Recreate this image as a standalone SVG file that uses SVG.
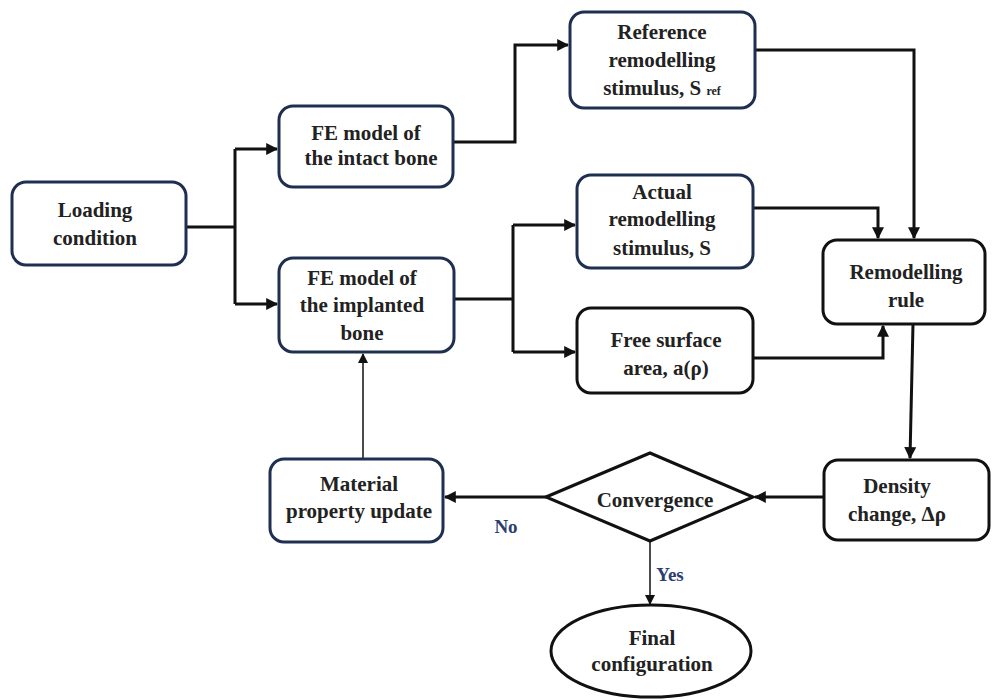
<svg xmlns="http://www.w3.org/2000/svg" width="992" height="700" viewBox="0 0 992 700">
<defs>
<style>
.nb{fill:#fff;stroke:#1f2f50;stroke-width:3}
.bk{fill:#fff;stroke:#111;stroke-width:3}
text{font-family:"Liberation Serif",serif;font-weight:bold;font-size:21px;fill:#222;text-anchor:middle}
.lbl{fill:#2c3e6e;font-size:19px}
.c{fill:none;stroke:#111;stroke-width:3}
.t{fill:none;stroke:#111;stroke-width:1.5}
</style>
<marker id="a" viewBox="0 0 10 10" refX="9" refY="5" markerWidth="4" markerHeight="4" orient="auto"><path d="M0,0L10,5L0,10z" fill="#111"/></marker>
<marker id="s" viewBox="0 0 10 10" refX="9" refY="5" markerWidth="7" markerHeight="7" orient="auto"><path d="M0,0L10,5L0,10z" fill="#111"/></marker>
</defs>
<rect width="992" height="700" fill="#fff"/>
<g id="connectors">
<path class="c" d="M186,227H235M235,149V304"/>
<path class="c" d="M235,149H277" marker-end="url(#a)"/>
<path class="c" d="M235,304H277" marker-end="url(#a)"/>
<path class="c" d="M453,142H515V45H568" marker-end="url(#a)"/>
<path class="c" d="M755,50H914V238" marker-end="url(#a)"/>
<path class="c" d="M753,208H878V238" marker-end="url(#a)"/>
<path class="c" d="M753,358H883V326" marker-end="url(#a)"/>
<path class="c" d="M454,299H513M513,225V352"/>
<path class="c" d="M513,225H575" marker-end="url(#a)"/>
<path class="c" d="M513,352H575" marker-end="url(#a)"/>
<path class="c" d="M913,324L910,458" marker-end="url(#a)"/>
<path class="c" d="M824,497H755" marker-end="url(#a)"/>
<path class="c" d="M546,497H445" marker-end="url(#a)"/>
<path class="t" d="M363,459V354" marker-end="url(#s)"/>
<path class="t" d="M650,541V604" marker-end="url(#s)"/>
<text class="lbl" x="506" y="533">No</text>
<text class="lbl" x="670" y="581">Yes</text>
</g>
<g id="loading"><rect class="nb" x="12" y="182" width="174" height="83" rx="14"/><text x="95" y="217">Loading</text><text x="95" y="245">condition</text></g>
<g id="fe-intact"><rect class="nb" x="279" y="106" width="174" height="81" rx="14"/><text x="366" y="140">FE model of</text><text x="371" y="165">the intact bone</text></g>
<g id="reference"><rect class="nb" x="570" y="12" width="185" height="96" rx="14"/><text x="662" y="39">Reference</text><text x="662" y="67">remodelling</text><text x="662" y="95">stimulus, S <tspan font-size="12">ref</tspan></text></g>
<g id="actual"><rect class="nb" x="577" y="175" width="176" height="93" rx="14"/><text x="662" y="199">Actual</text><text x="662" y="226">remodelling</text><text x="662" y="255">stimulus, S</text></g>
<g id="free-surface"><rect class="bk" x="577" y="308" width="176" height="85" rx="14"/><text x="666" y="347">Free surface</text><text x="666" y="375">area, a(ρ)</text></g>
<g id="remodelling-rule"><rect class="bk" x="823" y="240" width="162" height="84" rx="14"/><text x="906" y="279">Remodelling</text><text x="906" y="307">rule</text></g>
<g id="fe-implanted"><rect class="nb" x="279" y="258" width="175" height="94" rx="14"/><text x="362" y="285">FE model of</text><text x="362" y="312">the implanted</text><text x="362" y="340">bone</text></g>
<g id="material"><rect class="nb" x="270" y="459" width="173" height="83" rx="14"/><text x="359" y="491">Material</text><text x="359" y="518">property update</text></g>
<g id="convergence"><polygon class="bk" points="546,497 650,453 753,497 650,541"/><text x="655" y="507">Convergence</text></g>
<g id="density"><rect class="bk" x="824" y="460" width="165" height="80" rx="14"/><text x="897" y="493">Density</text><text x="897" y="521">change, Δρ</text></g>
<g id="final"><ellipse class="bk" cx="651" cy="651" rx="100" ry="46"/><text x="652" y="645">Final</text><text x="652" y="671">configuration</text></g>
</svg>
